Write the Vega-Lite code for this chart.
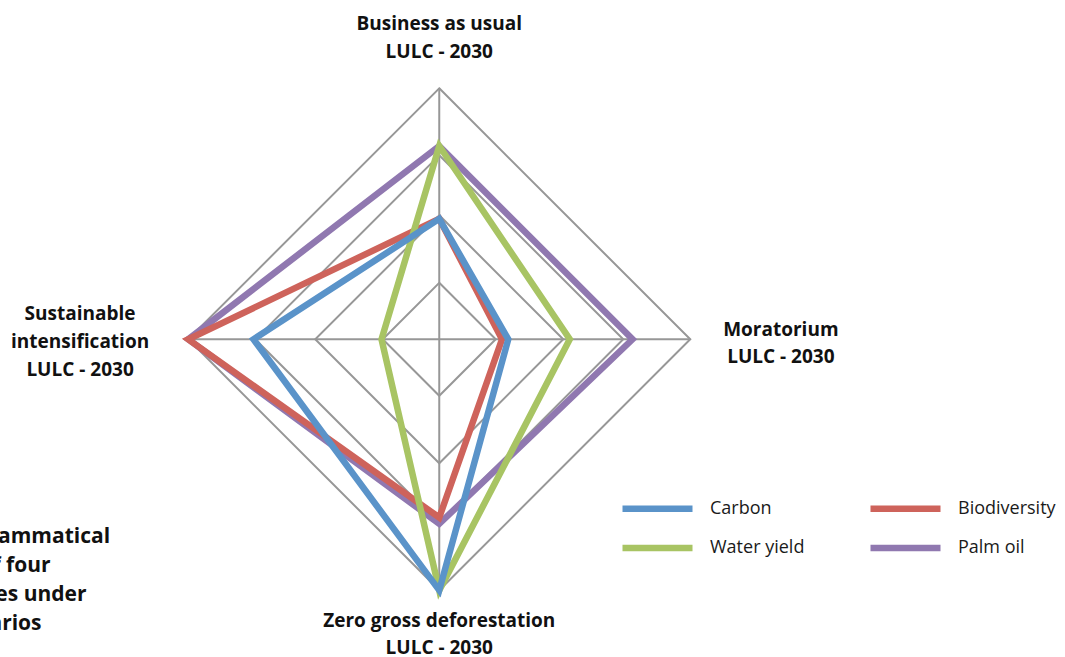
{
  "$schema": "https://vega.github.io/schema/vega-lite/v6.json",
  "width": 1065,
  "height": 657,
  "padding": 0,
  "autosize": {"type": "none"},
  "background": "white",
  "config": {"view": {"stroke": null}, "font": "Open Sans"},
  "datasets": {
    "scores": [
      {"series": "Carbon", "scenario": "Business as usual", "idx": 0, "value": 0.48},
      {"series": "Carbon", "scenario": "Moratorium", "idx": 1, "value": 0.275},
      {"series": "Carbon", "scenario": "Zero gross deforestation", "idx": 2, "value": 1.0},
      {"series": "Carbon", "scenario": "Sustainable intensification", "idx": 3, "value": 0.74},
      {"series": "Biodiversity", "scenario": "Business as usual", "idx": 0, "value": 0.48},
      {"series": "Biodiversity", "scenario": "Moratorium", "idx": 1, "value": 0.25},
      {"series": "Biodiversity", "scenario": "Zero gross deforestation", "idx": 2, "value": 0.71},
      {"series": "Biodiversity", "scenario": "Sustainable intensification", "idx": 3, "value": 1.0},
      {"series": "Water yield", "scenario": "Business as usual", "idx": 0, "value": 0.77},
      {"series": "Water yield", "scenario": "Moratorium", "idx": 1, "value": 0.52},
      {"series": "Water yield", "scenario": "Zero gross deforestation", "idx": 2, "value": 1.0},
      {"series": "Water yield", "scenario": "Sustainable intensification", "idx": 3, "value": 0.23},
      {"series": "Palm oil", "scenario": "Business as usual", "idx": 0, "value": 0.77},
      {"series": "Palm oil", "scenario": "Moratorium", "idx": 1, "value": 0.77},
      {"series": "Palm oil", "scenario": "Zero gross deforestation", "idx": 2, "value": 0.735},
      {"series": "Palm oil", "scenario": "Sustainable intensification", "idx": 3, "value": 1.0}
    ],
    "rings": [
      {"ring": 1, "value": 0.225, "idx": [0, 1, 2, 3]},
      {"ring": 2, "value": 0.494, "idx": [0, 1, 2, 3]},
      {"ring": 3, "value": 0.733, "idx": [0, 1, 2, 3]},
      {"ring": 4, "value": 1.0, "idx": [0, 1, 2, 3]}
    ],
    "one": [{}]
  },
  "layer": [
    {
      "data": {"name": "rings"},
      "transform": [
        {"flatten": ["idx"]},
        {"calculate": "datum.idx === 1 ? datum.value : (datum.idx === 3 ? -datum.value : 0)", "as": "x"},
        {"calculate": "datum.idx === 0 ? datum.value : (datum.idx === 2 ? -datum.value : 0)", "as": "y"}
      ],
      "mark": {"type": "line", "interpolate": "linear-closed", "color": "#979797", "strokeWidth": 2},
      "encoding": {
        "x": {"field": "x", "type": "quantitative", "scale": {"domain": [-1.75, 2.493], "nice": false, "zero": false}, "axis": null},
        "y": {"field": "y", "type": "quantitative", "scale": {"domain": [-1.2657, 1.3518], "nice": false, "zero": false}, "axis": null},
        "detail": {"field": "ring", "type": "nominal"},
        "order": {"field": "idx", "type": "quantitative"}
      }
    },
    {
      "data": {"name": "one"},
      "mark": {"type": "rule", "color": "#979797", "strokeWidth": 2},
      "encoding": {
        "x": {"datum": -1, "type": "quantitative", "scale": {"domain": [-1.75, 2.493], "nice": false, "zero": false}, "axis": null},
        "x2": {"datum": 1},
        "y": {"datum": 0, "type": "quantitative", "scale": {"domain": [-1.2657, 1.3518], "nice": false, "zero": false}, "axis": null}
      }
    },
    {
      "data": {"name": "one"},
      "mark": {"type": "rule", "color": "#979797", "strokeWidth": 2},
      "encoding": {
        "x": {"datum": 0, "type": "quantitative", "scale": {"domain": [-1.75, 2.493], "nice": false, "zero": false}, "axis": null},
        "y": {"datum": -1, "type": "quantitative", "scale": {"domain": [-1.2657, 1.3518], "nice": false, "zero": false}, "axis": null},
        "y2": {"datum": 1}
      }
    },
    {
      "data": {"name": "scores"},
      "transform": [
        {"filter": "datum.series === 'Palm oil'"},
        {"calculate": "datum.idx === 1 ? datum.value : (datum.idx === 3 ? -datum.value : 0)", "as": "x"},
        {"calculate": "datum.idx === 0 ? datum.value : (datum.idx === 2 ? -datum.value : 0)", "as": "y"}
      ],
      "mark": {"type": "line", "interpolate": "linear-closed", "strokeWidth": 6.5},
      "encoding": {
        "x": {"field": "x", "type": "quantitative", "scale": {"domain": [-1.75, 2.493], "nice": false, "zero": false}, "axis": null},
        "y": {"field": "y", "type": "quantitative", "scale": {"domain": [-1.2657, 1.3518], "nice": false, "zero": false}, "axis": null},
        "order": {"field": "idx", "type": "quantitative"},
        "color": {"field": "series", "type": "nominal",
          "scale": {"domain": ["Carbon", "Water yield", "Biodiversity", "Palm oil"], "range": ["#5A93C9", "#A8C463", "#CE635B", "#9078B0"]},
          "legend": {"orient": "none", "legendX": 647, "legendY": 498, "title": null, "columns": 2, "symbolType": "M-5,0L5,0", "symbolSize": 196, "symbolStrokeWidth": 6.5, "labelFont": "Open Sans", "labelFontSize": 18, "labelColor": "#1a1a1a", "labelOffset": 42, "columnPadding": 52, "rowPadding": 12.4, "padding": 0, "offset": 0, "labelLimit": 0}}
      }
    },
    {
      "data": {"name": "scores"},
      "transform": [
        {"filter": "datum.series === 'Biodiversity'"},
        {"calculate": "datum.idx === 1 ? datum.value : (datum.idx === 3 ? -datum.value : 0)", "as": "x"},
        {"calculate": "datum.idx === 0 ? datum.value : (datum.idx === 2 ? -datum.value : 0)", "as": "y"}
      ],
      "mark": {"type": "line", "interpolate": "linear-closed", "strokeWidth": 6.5},
      "encoding": {
        "x": {"field": "x", "type": "quantitative", "scale": {"domain": [-1.75, 2.493], "nice": false, "zero": false}, "axis": null},
        "y": {"field": "y", "type": "quantitative", "scale": {"domain": [-1.2657, 1.3518], "nice": false, "zero": false}, "axis": null},
        "order": {"field": "idx", "type": "quantitative"},
        "color": {"field": "series", "type": "nominal"}
      }
    },
    {
      "data": {"name": "scores"},
      "transform": [
        {"filter": "datum.series === 'Water yield'"},
        {"calculate": "datum.idx === 1 ? datum.value : (datum.idx === 3 ? -datum.value : 0)", "as": "x"},
        {"calculate": "datum.idx === 0 ? datum.value : (datum.idx === 2 ? -datum.value : 0)", "as": "y"}
      ],
      "mark": {"type": "line", "interpolate": "linear-closed", "strokeWidth": 6.5},
      "encoding": {
        "x": {"field": "x", "type": "quantitative", "scale": {"domain": [-1.75, 2.493], "nice": false, "zero": false}, "axis": null},
        "y": {"field": "y", "type": "quantitative", "scale": {"domain": [-1.2657, 1.3518], "nice": false, "zero": false}, "axis": null},
        "order": {"field": "idx", "type": "quantitative"},
        "color": {"field": "series", "type": "nominal"}
      }
    },
    {
      "data": {"name": "scores"},
      "transform": [
        {"filter": "datum.series === 'Carbon'"},
        {"calculate": "datum.idx === 1 ? datum.value : (datum.idx === 3 ? -datum.value : 0)", "as": "x"},
        {"calculate": "datum.idx === 0 ? datum.value : (datum.idx === 2 ? -datum.value : 0)", "as": "y"}
      ],
      "mark": {"type": "line", "interpolate": "linear-closed", "strokeWidth": 6.5},
      "encoding": {
        "x": {"field": "x", "type": "quantitative", "scale": {"domain": [-1.75, 2.493], "nice": false, "zero": false}, "axis": null},
        "y": {"field": "y", "type": "quantitative", "scale": {"domain": [-1.2657, 1.3518], "nice": false, "zero": false}, "axis": null},
        "order": {"field": "idx", "type": "quantitative"},
        "color": {"field": "series", "type": "nominal"}
      }
    },
    {
      "data": {"values": [{"label": "Business as usual\nLULC - 2030"}]},
      "mark": {"type": "text", "font": "Open Sans", "fontWeight": "bold", "fontSize": 19, "lineBreak": "\n", "lineHeight": 28, "align": "center", "baseline": "middle", "color": "#111111"},
      "encoding": {
        "x": {"datum": 0, "type": "quantitative", "scale": {"domain": [-1.75, 2.493], "nice": false, "zero": false}, "axis": null},
        "y": {"datum": 1.256, "type": "quantitative", "scale": {"domain": [-1.2657, 1.3518], "nice": false, "zero": false}, "axis": null},
        "text": {"field": "label"}
      }
    },
    {
      "data": {"values": [{"label": "Moratorium\nLULC - 2030"}]},
      "mark": {"type": "text", "font": "Open Sans", "fontWeight": "bold", "fontSize": 19, "lineBreak": "\n", "lineHeight": 27.5, "align": "center", "baseline": "middle", "color": "#111111"},
      "encoding": {
        "x": {"datum": 1.361, "type": "quantitative", "scale": {"domain": [-1.75, 2.493], "nice": false, "zero": false}, "axis": null},
        "y": {"datum": 0.039, "type": "quantitative", "scale": {"domain": [-1.2657, 1.3518], "nice": false, "zero": false}, "axis": null},
        "text": {"field": "label"}
      }
    },
    {
      "data": {"values": [{"label": "Zero gross deforestation\nLULC - 2030"}]},
      "mark": {"type": "text", "font": "Open Sans", "fontWeight": "bold", "fontSize": 19, "lineBreak": "\n", "lineHeight": 27, "align": "center", "baseline": "middle", "color": "#111111"},
      "encoding": {
        "x": {"datum": 0, "type": "quantitative", "scale": {"domain": [-1.75, 2.493], "nice": false, "zero": false}, "axis": null},
        "y": {"datum": -1.122, "type": "quantitative", "scale": {"domain": [-1.2657, 1.3518], "nice": false, "zero": false}, "axis": null},
        "text": {"field": "label"}
      }
    },
    {
      "data": {"values": [{"label": "Sustainable\nintensification\nLULC - 2030"}]},
      "mark": {"type": "text", "font": "Open Sans", "fontWeight": "bold", "fontSize": 19, "lineBreak": "\n", "lineHeight": 27.8, "align": "center", "baseline": "middle", "color": "#111111"},
      "encoding": {
        "x": {"datum": -1.431, "type": "quantitative", "scale": {"domain": [-1.75, 2.493], "nice": false, "zero": false}, "axis": null},
        "y": {"datum": 0.1, "type": "quantitative", "scale": {"domain": [-1.2657, 1.3518], "nice": false, "zero": false}, "axis": null},
        "text": {"field": "label"}
      }
    },
    {
      "data": {"values": [{"label": "Diagrammatical\nset of four\nspecies under\nscenarios"}]},
      "mark": {"type": "text", "font": "Open Sans", "fontWeight": "bold", "fontSize": 21, "lineBreak": "\n", "lineHeight": 29.2, "align": "left", "baseline": "middle", "color": "#111111"},
      "encoding": {
        "x": {"datum": -1.981, "type": "quantitative", "scale": {"domain": [-1.75, 2.493], "nice": false, "zero": false}, "axis": null},
        "y": {"datum": -0.786, "type": "quantitative", "scale": {"domain": [-1.2657, 1.3518], "nice": false, "zero": false}, "axis": null},
        "text": {"field": "label"}
      }
    }
  ]
}
